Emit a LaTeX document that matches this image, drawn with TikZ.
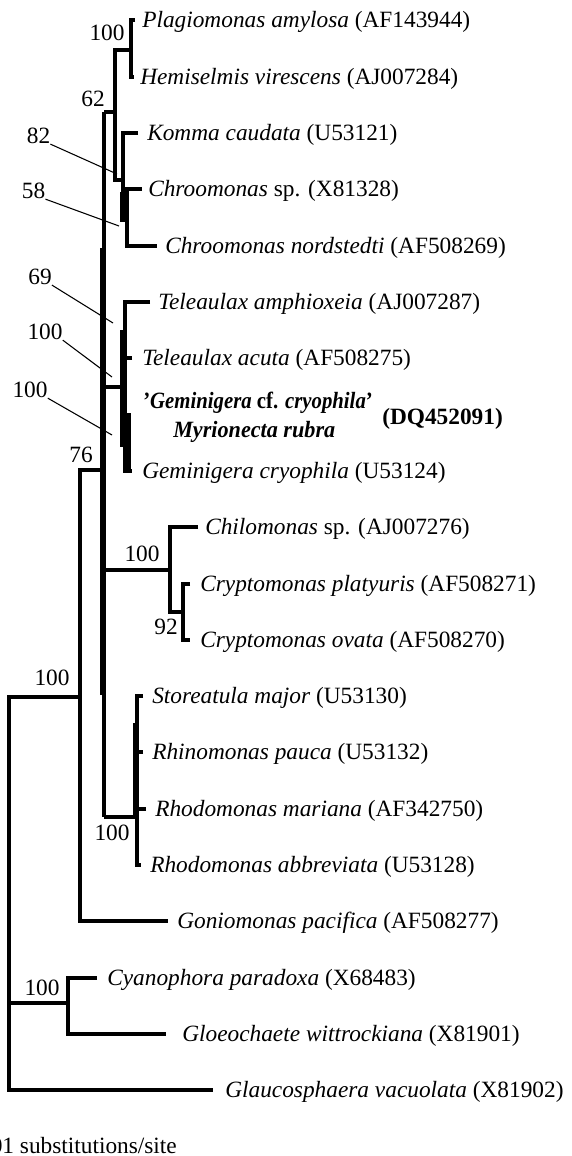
\documentclass[tikz,border=0pt]{standalone}
\usepackage{fontspec}
\setmainfont{Liberation Serif}
\newcommand{\treefont}{\fontsize{17.5}{21}\selectfont}
\newcommand{\sq}{\char"27\relax}
\begin{document}
\begin{tikzpicture}[x=0.75pt,y=-0.75pt,
  br/.style={line width=3pt, line join=miter},
  thk/.style={line width=4.4pt},
  lead/.style={line width=0.8pt},
  lab/.style={anchor=base west, inner sep=0pt, font=\treefont},
  num/.style={inner sep=0pt, font=\treefont}]
\clip (0,0) rectangle (571,1156);
% leaf tips
\coordinate (tPlag) at (135,20.5);
\coordinate (tHemi) at (134,76.8);
\coordinate (tKomma) at (138,133.1);
\coordinate (tChrsp) at (142,189.4);
\coordinate (tChrn) at (157,245.7);
\coordinate (tTamph) at (150,302);
\coordinate (tTacu) at (132,358.3);
\coordinate (tGcry) at (132,470.9);
\coordinate (tChilo) at (198,527.2);
\coordinate (tCplat) at (190,583.5);
\coordinate (tCova) at (190,639.8);
\coordinate (tStore) at (143,696.1);
\coordinate (tRhino) at (143,752.4);
\coordinate (tRmar) at (146,808.7);
\coordinate (tRabb) at (141,865);
\coordinate (tGonio) at (168,921.3);
\coordinate (tCyano) at (97,977.6);
\coordinate (tGloeo) at (166,1033.9);
\coordinate (tGlauc) at (213,1090.2);
% internal nodes
\coordinate (a100) at (131,50);
\coordinate (n1) at (115,112);
\coordinate (n2) at (123,180);
\coordinate (n2b) at (123,192);
\coordinate (n3) at (123,222);
\coordinate (n4) at (127,215);
\coordinate (sTop) at (104,112);
\coordinate (sThkA) at (103,248);
\coordinate (sThkB) at (103,695);
\coordinate (s69) at (104,387);
\coordinate (t1) at (120,387);
\coordinate (t1a) at (122.5,330);
\coordinate (t1b) at (122.5,447);
\coordinate (t2) at (124.5,387);
\coordinate (t3a) at (129,413);
\coordinate (t3b) at (129,471);
\coordinate (s76) at (104,470);
\coordinate (s100c) at (104,570);
\coordinate (c1) at (170,570);
\coordinate (c2) at (183,612);
\coordinate (sBot) at (104,817);
\coordinate (r1) at (137,817);
\coordinate (r1a) at (136,723);
\coordinate (g1) at (80,697);
\coordinate (root) at (9,890);
\coordinate (gl) at (68,1003);
% branches
\draw[br] (tPlag) -| (a100) |- (tHemi);
\draw[br] (a100) -| (n1) |- (n2);
\draw[br] (n1) -- (sTop);
\draw[br] (tKomma) -| (n2) -- (n3);
\draw[thk] (n2b) -- (n3);
\draw[br] (tChrsp) -| (n4) |- (tChrn);
\draw[br] (sTop) -- (sBot);
\draw[line width=5.2pt] (sThkA) -- (sThkB);
\draw[br] (s69) -- (t1);
\draw[thk] (t1a) -- (t1b);
\draw[br] (tTamph) -| (t2) |- (tGcry);
\draw[br] (tTacu) -- (t2 |- tTacu);
\draw[line width=3.2pt] (t3a) -- (t3b);
\draw[br] (s100c) -- (c1);
\draw[br] (tChilo) -| (c1) |- (c2);
\draw[br] (tCplat) -| (c2) |- (tCova);
\draw[br] (sBot) -- (r1);
\draw[br] (tStore) -| (r1) |- (tRabb);
\draw[br] (tRhino) -- (r1 |- tRhino);
\draw[br] (tRmar) -- (r1 |- tRmar);
\draw[thk] (r1a) -- (r1a |- r1);
\draw[br] (s76) -| (g1) |- (tGonio);
\draw[br] (g1) -| (root) |- (tGlauc);
\draw[br] (root |- gl) -- (gl);
\draw[br] (tCyano) -| (gl) |- (tGloeo);
% leaf labels
\node[lab] (lPlag) at (142,28) {\textit{Plagiomonas amylosa} (AF143944)};
\node[lab] (lHemi) at (140,84.3) {\textit{Hemiselmis virescens} (AJ007284)};
\node[lab] (lKomma) at (147,140.6) {\textit{Komma caudata} (U53121)};
\node[lab] (lChrsp) at (148,196.9) {\textit{Chroomonas} sp. (X81328)};
\node[lab] (lChrn) at (165,253.2) {\textit{Chroomonas nordstedti} (AF508269)};
\node[lab] (lTamph) at (158,309.5) {\textit{Teleaulax amphioxeia} (AJ007287)};
\node[lab] (lTacu) at (142,365.8) {\textit{Teleaulax acuta} (AF508275)};
\node[lab] (lGcf) at (143,408) {\scalebox{0.89}[1]{\textbf{\sq\textit{Geminigera} cf. \textit{cryophila}\sq}}};
\node[lab] (lMyr) at (173,437) {\scalebox{0.95}[1]{\textbf{\textit{Myrionecta rubra}}}};
\node[lab] (lDQ) at (382,424) {\textbf{(DQ452091)}};
\node[lab] (lGcry) at (142,478.4) {\textit{Geminigera cryophila} (U53124)};
\node[lab] (lChilo) at (205,534.7) {\textit{Chilomonas} sp. (AJ007276)};
\node[lab] (lCplat) at (200,591) {\textit{Cryptomonas platyuris} (AF508271)};
\node[lab] (lCova) at (200,647.3) {\textit{Cryptomonas ovata} (AF508270)};
\node[lab] (lStore) at (152,703.6) {\textit{Storeatula major} (U53130)};
\node[lab] (lRhino) at (152,759.9) {\textit{Rhinomonas pauca} (U53132)};
\node[lab] (lRmar) at (155,816.2) {\textit{Rhodomonas mariana} (AF342750)};
\node[lab] (lRabb) at (150,872.5) {\textit{Rhodomonas abbreviata} (U53128)};
\node[lab] (lGonio) at (177,928.8) {\textit{Goniomonas pacifica} (AF508277)};
\node[lab] (lCyano) at (107,985.1) {\textit{Cyanophora paradoxa} (X68483)};
\node[lab] (lGloeo) at (182,1041.4) {\textit{Gloeochaete wittrockiana} (X81901)};
\node[lab] (lGlauc) at (225,1097.7) {\textit{Glaucosphaera vacuolata} (X81902)};
\node[lab] (scale) at (-27,1153) {0.01 substitutions/site};
% support values
\node[num] (b1) at (107,33) {100};
\node[num] (b2) at (93,99) {62};
\node[num] (b3) at (38.5,136) {82};
\node[num] (b4) at (33.5,191) {58};
\node[num] (b5) at (40,277) {69};
\node[num] (b6) at (45,332) {100};
\node[num] (b7) at (30,390) {100};
\node[num] (b8) at (81,455) {76};
\node[num] (b9) at (142,554) {100};
\node[num] (b10) at (166,627) {92};
\node[num] (b11) at (52,678) {100};
\node[num] (b12) at (112,833) {100};
\node[num] (b13) at (42,988) {100};
% leader lines
\coordinate (e3) at (117,174);
\coordinate (e4) at (119,226);
\coordinate (e5) at (113,323);
\coordinate (e6) at (112,377);
\coordinate (e7) at (112,435);
\draw[lead] (b3.south east) -- (e3);
\draw[lead] (b4.south east) -- (e4);
\draw[lead] (b5.south east) -- (e5);
\draw[lead] (b6.south east) -- (e6);
\draw[lead] (b7.south east) -- (e7);
\end{tikzpicture}
\end{document}
